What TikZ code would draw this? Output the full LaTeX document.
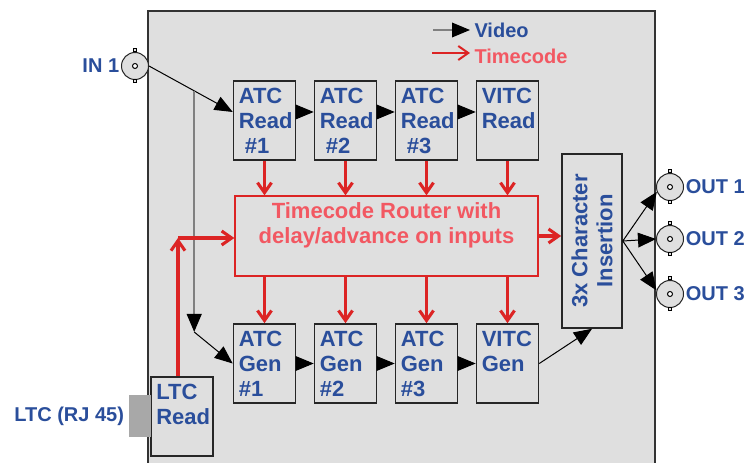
\documentclass[tikz,border=0pt]{standalone}
\usepackage{fontspec}
\setmainfont{Liberation Sans}
\usetikzlibrary{arrows.meta,calc}

\definecolor{vblue}{RGB}{42,78,155}
\definecolor{tcred}{RGB}{220,36,36}
\definecolor{tcpink}{RGB}{242,88,98}
\definecolor{panelgray}{RGB}{223,223,223}
\definecolor{rjgray}{RGB}{168,168,168}

\newcommand{\boxfont}{\fontsize{16.5}{18.75}\selectfont\bfseries}
\newcommand{\lblfont}{\fontsize{15}{18}\selectfont\bfseries}

% BNC socket: name, position
\newcommand{\bnc}[2]{%
  \node[bncring] (#1) at (#2) {};
  \draw[fill=panelgray] ($(#1.north)+(-1.5,0)$) rectangle ($(#1.north)+(1.5,-3)$);
  \draw[fill=panelgray] ($(#1.south)+(-1.5,0)$) rectangle ($(#1.south)+(1.5,3)$);
  \draw[fill=white] (#1.center) circle (2.5);
}

\tikzset{every picture/.style={line width=0.75pt}}
\tikzset{
  blk/.style={draw=black!85, line width=1.2pt, fill=panelgray, minimum width=46.5pt, minimum height=59.25pt, inner sep=0pt},
  btxt/.style={anchor=north west, align=left, inner xsep=4.2pt, inner ysep=5.3pt, text=vblue, font=\boxfont},
  ext/.style={text=vblue, font=\lblfont, inner sep=1pt},
  bncring/.style={circle, draw=black!85, fill=panelgray, minimum size=20.25pt, inner sep=0pt},
  vid/.style={-{Triangle[length=13.5pt,width=11pt]}, black},
  vidbus/.style={-{Triangle[length=13.5pt,width=11pt,color=black]}, gray, line width=1.6pt},
  tc/.style={-{Straight Barb[length=7.5pt,width=10.5pt]}, tcred, line width=2.3pt},
}

\begin{document}
\begin{tikzpicture}[x=0.75pt,y=0.75pt,yscale=-1,xscale=1]
\path[use as bounding box] (0,0) rectangle (754,463);

%Shape: Rectangle -- card outline
\fill[panelgray] (148,11) rectangle (655,463);
\draw[black!80, line width=1pt] (148,463) -- (148,11) -- (655,11) -- (655,463);

% reader row
\node[blk] (r1) at (264.5,120.5) {};
\node[blk] (r2) at (345.5,120.5) {};
\node[blk] (r3) at (426.5,120.5) {};
\node[blk] (r4) at (507.5,120.5) {};
% generator row
\node[blk] (g1) at (264.5,363.5) {};
\node[blk] (g2) at (345.5,363.5) {};
\node[blk] (g3) at (426.5,363.5) {};
\node[blk] (g4) at (507.5,363.5) {};

% router, inserter, LTC reader and jack
\node[draw=tcred, line width=1pt, fill=panelgray, minimum width=227.25pt, minimum height=60pt, inner sep=0pt] (tcr) at (386.5,236) {};
\node[blk, minimum width=45pt, minimum height=130.5pt] (ins) at (592,241) {};
\node[blk] (ltc) at (182,416.5) {};
\node[fill=rjgray, minimum width=16.5pt, minimum height=31.5pt, inner sep=0pt] (rj) at (140,416) {};

% sockets
\bnc{in1}{135,66}
\bnc{out1}{670,187}
\bnc{out2}{670,239}
\bnc{out3}{670,294}

% video path
\coordinate (tap) at ($(in1.east)!0.54!(r1.165)$);
\coordinate (tapend) at (tap |- 0,332);
\draw[vid] (in1.east) -- (r1.165);
\draw[vidbus] (tap) -- (tapend);
\draw[vid] (tapend) -- (g1.west);
\draw[vid] (r1.east |- r1.165) -- (r2.west |- r1.165);
\draw[vid] (r2.east |- r1.165) -- (r3.west |- r1.165);
\draw[vid] (r3.east |- r1.165) -- (r4.west |- r1.165);
\draw[vid] (g1.east) -- (g2.west);
\draw[vid] (g2.east) -- (g3.west);
\draw[vid] (g3.east) -- (g4.west);
\draw[vid] (g4.east) -- (ins.south);
\draw[vid] (ins.east) -- (out1.200);
\draw[vid] (ins.east) -- (out2.west);
\draw[vid] (ins.east) -- (out3.165);

% timecode path
\foreach \n in {1,...,4} {
  \draw[tc] (r\n.south) -- (r\n.south |- tcr.north);
  \draw[tc] (g\n.north |- tcr.south) -- (g\n.north);
}
\draw[tc] (tcr.east) -- (ins.west |- tcr.east);
\coordinate (ltcup) at (178,238);
\draw[tc] (ltc.north -| ltcup) -- (ltcup);
\draw[tc] (ltcup) -- (tcr.west |- ltcup);

% Text Node
\node[btxt] (r1t) at (r1.north west) {ATC\\Read\\\hspace*{0.28em}\#1};
\node[btxt] (r2t) at (r2.north west) {ATC\\Read\\\hspace*{0.28em}\#2};
\node[btxt] (r3t) at (r3.north west) {ATC\\Read\\\hspace*{0.28em}\#3};
\node[btxt] (r4t) at (r4.north west) {VITC\\Read};
\node[btxt] (g1t) at (g1.north west) {ATC\\Gen\\\#1};
\node[btxt] (g2t) at (g2.north west) {ATC\\Gen\\\#2};
\node[btxt] (g3t) at (g3.north west) {ATC\\Gen\\\#3};
\node[btxt] (g4t) at (g4.north west) {VITC\\Gen};
\node[btxt] (ltct) at (ltc.north west) {LTC\\Read};
\node[text=tcpink, font=\boxfont, align=center, anchor=north, inner sep=5pt] (tcrt) at (tcr.north) {Timecode Router with\\delay/advance on inputs};
\node[text=vblue, font=\boxfont, align=center, rotate=90] (inst) at (ins.center) {3x Character\\Insertion};

% socket labels
\node[ext, anchor=east] (inl) at (in1.west) {IN 1};
\node[ext, anchor=west] (o1l) at (out1.east) {OUT 1};
\node[ext, anchor=west] (o2l) at (out2.east) {OUT 2};
\node[ext, anchor=west] (o3l) at (out3.east) {OUT 3};
\node[ext, anchor=east, inner sep=3pt] (rjl) at (rj.west) {LTC (RJ 45)};

% key
\coordinate (kv) at (433,30);
\node[ext, anchor=west, inner sep=3pt] (kvid) at (470,30) {Video};
\draw[vidbus, line width=1pt] (kv) -- (kvid.west);
\coordinate (kt) at (432,53);
\node[ext, anchor=west, text=tcpink, inner sep=3pt] (ktc) at (470,56) {Timecode};
\draw[tc, line width=1.5pt] (kt) -- (ktc.west |- kt);

\end{tikzpicture}
\end{document}
